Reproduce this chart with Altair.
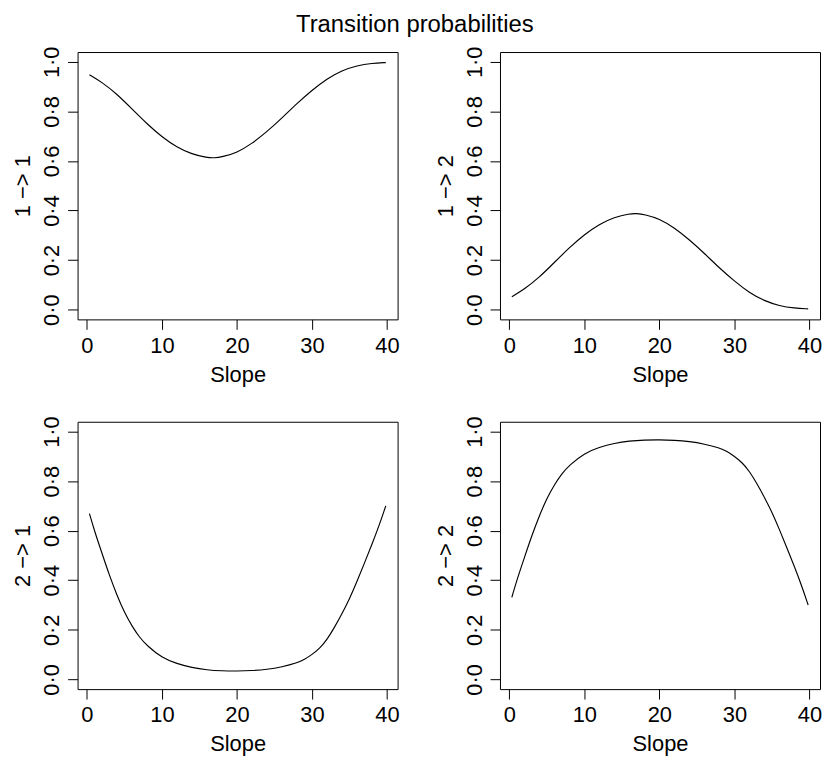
import altair as alt
import pandas as pd

# Panel 1 / 2 : transitions from state 1
x_a = [0.34, 2, 4, 6, 8, 10, 12, 14, 16, 17, 18, 20, 22, 24, 26, 28, 30, 32, 34, 36, 38, 39.83]
p11 = [0.948, 0.918, 0.870, 0.810, 0.750, 0.697, 0.655, 0.627, 0.613, 0.612, 0.616, 0.633,
       0.670, 0.718, 0.773, 0.832, 0.885, 0.932, 0.965, 0.985, 0.994, 0.997]
p12 = [0.052, 0.082, 0.130, 0.190, 0.250, 0.303, 0.345, 0.373, 0.387, 0.388, 0.384, 0.367,
       0.330, 0.282, 0.227, 0.168, 0.115, 0.068, 0.035, 0.015, 0.006, 0.003]

# Panel 3 / 4 : transitions from state 2
x_b = [0.34, 1, 2, 3, 4, 5, 6, 7, 8, 10, 12, 14, 16, 18, 20, 22, 24, 26, 28, 29, 30, 31, 32,
       33, 34, 35, 36, 37, 38, 39, 39.83]
p21 = [0.669, 0.600, 0.510, 0.420, 0.340, 0.270, 0.215, 0.170, 0.136, 0.087, 0.063, 0.047,
       0.038, 0.034, 0.033, 0.035, 0.040, 0.050, 0.066, 0.080, 0.100, 0.124, 0.160, 0.210,
       0.265, 0.325, 0.395, 0.470, 0.545, 0.625, 0.700]
p22 = [0.331, 0.400, 0.490, 0.580, 0.660, 0.730, 0.785, 0.830, 0.864, 0.913, 0.937, 0.953,
       0.962, 0.966, 0.967, 0.965, 0.960, 0.950, 0.934, 0.920, 0.900, 0.876, 0.840, 0.790,
       0.735, 0.675, 0.605, 0.530, 0.455, 0.375, 0.300]

titles = ["1 \u2212> 1", "1 \u2212> 2", "2 \u2212> 1", "2 \u2212> 2"]
x_ticks = [0, 10, 20, 30, 40]
y_ticks = [0.0, 0.2, 0.4, 0.6, 0.8, 1.0]

FONT = "Liberation Sans"
W, H = 322, 269


def panel(xs, ys, ytitle):
    df = pd.DataFrame({"Slope": xs, "p": ys})
    return (
        alt.Chart(df)
        .mark_line(color="black", strokeWidth=1.15, interpolate="basis")
        .encode(
            x=alt.X(
                "Slope:Q",
                scale=alt.Scale(domain=[-1.24, 41.41], nice=False, zero=False),
                axis=alt.Axis(
                    values=x_ticks,
                    title="Slope",
                    labelPadding=6,
                    titleX=W / 2,
                    titleY=62,
                    titleBaseline="alphabetic",
                    titleAlign="center",
                ),
            ),
            y=alt.Y(
                "p:Q",
                scale=alt.Scale(domain=[-0.0395, 1.0395], nice=False, zero=False),
                axis=alt.Axis(
                    values=y_ticks,
                    format=".1f",
                    labelExpr="replace(datum.label, '.', '\u00b7')",
                    labelAngle=270,
                    labelAlign="center",
                    labelBaseline="alphabetic",
                    labelPadding=9,
                    title=ytitle,
                    titleX=-48,
                    titleY=H / 2,
                    titleAngle=270,
                    titleBaseline="alphabetic",
                    titleAlign="center",
                ),
            ),
        )
        .properties(width=W, height=H)
    )


chart = (
    alt.concat(
        panel(x_a, p11, titles[0]),
        panel(x_a, p12, titles[1]),
        panel(x_b, p21, titles[2]),
        panel(x_b, p22, titles[3]),
        columns=2,
        spacing=103,
        bounds="flush",
    )
    .properties(
        title=alt.TitleParams(
            "Transition probabilities",
            fontSize=24,
            font=FONT,
            fontWeight="normal",
            color="black",
            anchor="middle",
            dx=-2,
            offset=9,
        ),
        padding={"left": 3, "top": 2, "right": 0, "bottom": 0},
        background="white",
    )
    .configure_axis(
        labelFont=FONT,
        labelFontSize=22,
        labelColor="black",
        titleFont=FONT,
        titleFontSize=22,
        titleFontWeight="normal",
        titleColor="black",
        tickColor="black",
        tickSize=10,
        tickWidth=1,
        domain=False,
        grid=False,
    )
    .configure_view(stroke="black", strokeWidth=1)
)

chart.save("out.html", embed_options={"renderer": "svg", "actions": False})
